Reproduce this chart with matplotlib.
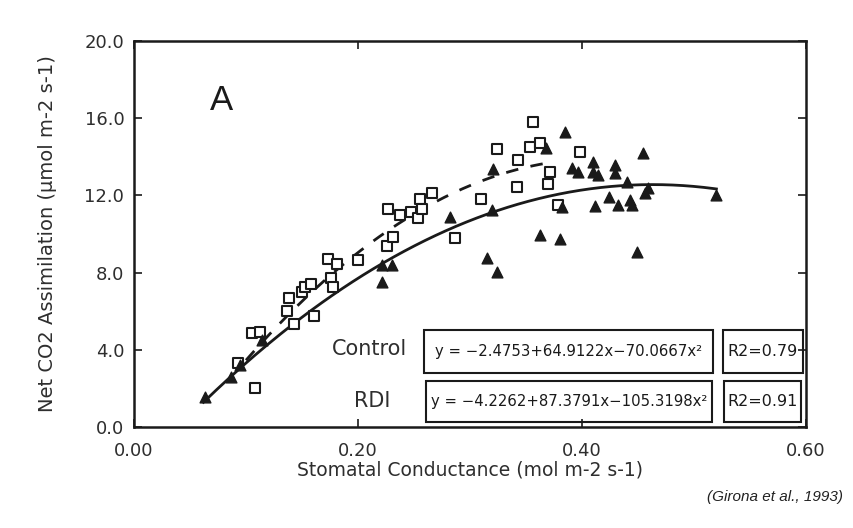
import numpy as np
import matplotlib
matplotlib.use("Agg")
import matplotlib.pyplot as plt
from matplotlib.patches import Rectangle

# ---------------- data ----------------
square_x = [0.105, 0.1125, 0.0926, 0.108, 0.138, 0.137, 0.143, 0.150, 0.153, 0.158,
            0.161, 0.176, 0.178, 0.1735, 0.181, 0.200, 0.2256, 0.2315, 0.227, 0.2375,
            0.247, 0.254, 0.2554, 0.257, 0.2664, 0.3565, 0.3238, 0.343, 0.354, 0.3625,
            0.398, 0.371, 0.370, 0.3417, 0.310, 0.379, 0.2866]
square_y = [4.89, 4.94, 3.30, 2.04, 6.67, 6.03, 5.34, 7.01, 7.24, 7.41,
            5.77, 7.70, 7.24, 8.69, 8.43, 8.65, 9.38, 9.86, 11.28, 10.98,
            11.16, 10.81, 11.80, 11.28, 12.14, 15.82, 14.39, 13.83, 14.49, 14.70,
            14.26, 13.23, 12.59, 12.45, 11.81, 11.50, 9.78]

tri_x = [0.0634, 0.087, 0.0946, 0.114, 0.221, 0.221, 0.230,
         0.3848, 0.368, 0.3208, 0.3908, 0.3967, 0.410, 0.410, 0.4146, 0.4295,
         0.4295, 0.4547, 0.4399, 0.459, 0.456, 0.520, 0.4244, 0.443, 0.4443,
         0.4324, 0.4116, 0.3818, 0.3193, 0.282, 0.3625, 0.380, 0.4488, 0.3149, 0.3238]
tri_y = [1.57, 2.61, 3.21, 4.51, 7.53, 8.39, 8.39,
         15.27, 14.44, 13.37, 13.40, 13.23, 13.75, 13.23, 13.06, 13.58,
         13.14, 14.18, 12.71, 12.37, 12.11, 12.02, 11.93, 11.76, 11.50,
         11.50, 11.45, 11.41, 11.24, 10.90, 9.95, 9.72, 9.08, 8.74, 8.05]

# fitted equations shown in the chart (intercept, linear, quadratic)
control_coef = [-2.4753, 64.9122, -70.0667]
rdi_coef = [-4.2262, 87.3791, -105.3198]
control_range = [0.062, 0.52]
rdi_range = [0.10, 0.375]

control_eq = "y = \u22122.4753+64.9122x\u221270.0667x\u00b2"
rdi_eq = "y = \u22124.2262+87.3791x\u2212105.3198x\u00b2"
control_r2 = "R2=0.79"
rdi_r2 = "R2=0.91"

xticks = [0.00, 0.20, 0.40, 0.60]
xticklabels = ["0.00", "0.20", "0.40", "0.60"]
yticks = [0.0, 4.0, 8.0, 12.0, 16.0, 20.0]
yticklabels = ["0.0", "4.0", "8.0", "12.0", "16.0", "20.0"]

# ---------------- plot ----------------
plt.rcParams['font.family'] = ['DejaVu Sans']
fig = plt.figure(figsize=(8.54, 5.28), dpi=100)
ax = fig.add_axes([0.1569, 0.1913, 0.7869, 0.7311])

ink = "#1a1a1a"
txt = "#2e2e2e"

xc = np.linspace(control_range[0], control_range[1], 200)
yc = control_coef[0] + control_coef[1] * xc + control_coef[2] * xc ** 2
ax.plot(xc, yc, color=ink, lw=2.0, zorder=2)

xr = np.linspace(rdi_range[0], rdi_range[1], 200)
yr = rdi_coef[0] + rdi_coef[1] * xr + rdi_coef[2] * xr ** 2
ax.plot(xr, yr, color=ink, lw=2.0, linestyle=(0, (4.5, 4.5)), zorder=2)

ax.scatter(square_x, square_y, marker='s', s=55, facecolors='white',
           edgecolors=ink, linewidths=1.5, zorder=3)
ax.scatter(tri_x, tri_y, marker='^', s=60, color=ink, zorder=4)

ax.set_xlim(0, 0.6)
ax.set_ylim(0, 20)
ax.set_xticks(xticks)
ax.set_xticklabels(xticklabels)
ax.set_yticks(yticks)
ax.set_yticklabels(yticklabels)
ax.tick_params(direction='in', top=True, right=True, length=6, width=1.2,
               labelsize=13, labelcolor=txt, color=ink)
ax.tick_params(axis='x', pad=11)
ax.tick_params(axis='y', pad=7)
for s in ax.spines.values():
    s.set_linewidth(1.8)
    s.set_color(ink)

ax.set_xlabel("Stomatal Conductance (mol m-2 s-1)", fontsize=13.5, color=txt,
              labelpad=0)
ax.set_ylabel("Net CO2 Assimilation (\u03bcmol m-2 s-1)", fontsize=14,
              color=txt, labelpad=20)

ax.text(0.13, 0.847, "A", transform=ax.transAxes, fontsize=25, color=ink,
        ha='center', va='center', family='Liberation Sans')

# equation boxes
for (x0, x1, y0, y1) in [(0.4315, 0.8616, 0.140, 0.251),
                         (0.8765, 0.995, 0.140, 0.251),
                         (0.4345, 0.8601, 0.013, 0.119),
                         (0.8780, 0.993, 0.013, 0.119)]:
    ax.add_patch(Rectangle((x0, y0), x1 - x0, y1 - y0, transform=ax.transAxes,
                           fill=False, edgecolor=ink, lw=1.5, zorder=5))

ax.text(0.35, 0.202, "Control", transform=ax.transAxes, fontsize=15,
        color=txt, ha='center', va='center')
ax.text(0.354, 0.068, "RDI", transform=ax.transAxes, fontsize=15,
        color=txt, ha='center', va='center')
ax.text(0.6465, 0.195, control_eq, transform=ax.transAxes, fontsize=10.7,
        color=ink, ha='center', va='center')
ax.text(0.6473, 0.066, rdi_eq, transform=ax.transAxes, fontsize=10.7,
        color=ink, ha='center', va='center')
ax.text(0.936, 0.195, control_r2, transform=ax.transAxes, fontsize=11.5,
        color=ink, ha='center', va='center')
ax.text(0.936, 0.066, rdi_r2, transform=ax.transAxes, fontsize=11.5,
        color=ink, ha='center', va='center')

fig.text(0.9075, 0.0587, "(Girona et al., 1993)", fontsize=11, style='italic',
         color="#222222", ha='center', va='center', family='Liberation Sans')

fig.savefig("out.png", dpi=100, facecolor='white')
